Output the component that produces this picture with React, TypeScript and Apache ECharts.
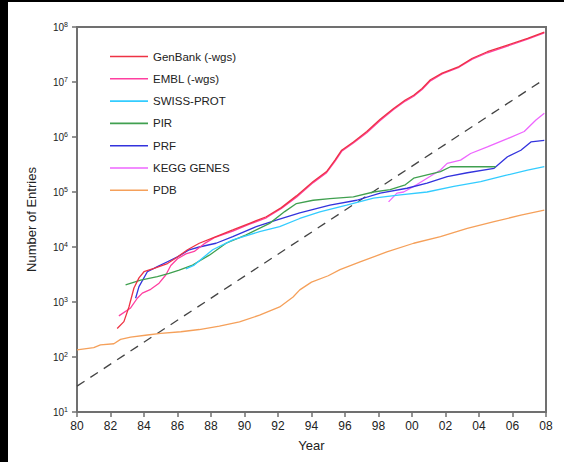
import React, { useEffect, useRef } from "react";
import * as echarts from "echarts";

const legendNames = ["GenBank (-wgs)", "EMBL (-wgs)", "SWISS-PROT", "PIR", "PRF", "KEGG GENES", "PDB"];
const seriesColors = ["#ee3344", "#ff3fa0", "#33ccff", "#40a050", "#3333dd", "#ee66ff", "#f5a05a"];

const genbank: [number, number][] = [
  [1982.4, 330], [1982.8, 440], [1983.1, 810], [1983.4, 1800], [1983.7, 2750], [1984.0, 3550],
  [1984.6, 4100], [1985.4, 5000], [1986.0, 6600], [1986.6, 8900], [1987.3, 11700], [1988.3, 15500],
  [1989.3, 20400], [1990.3, 27000], [1991.3, 35500], [1992.2, 52000], [1993.1, 85000], [1994.1, 155000],
  [1994.9, 235000], [1995.4, 380000], [1995.8, 575000], [1996.5, 810000], [1997.3, 1.26e6], [1998.1, 2.1e6],
  [1998.9, 3.3e6], [1999.6, 4.7e6], [2000.1, 5.75e6], [2000.6, 7.6e6], [2001.1, 1.1e7], [2001.8, 1.45e7],
  [2002.8, 1.9e7], [2003.6, 2.7e7], [2004.5, 3.55e7], [2005.7, 4.7e7], [2006.9, 6.2e7], [2007.9, 8.1e7],
];
const embl: [number, number][] = [
  [1982.5, 560], [1983.2, 780], [1983.6, 1170], [1983.9, 1450], [1984.4, 1700], [1984.9, 2200],
  [1985.3, 3100], [1985.6, 4600], [1986.0, 6100], [1986.5, 7500], [1987.0, 8300], [1987.6, 11500],
  [1988.2, 14800], [1989.3, 19500], [1990.3, 26000], [1991.3, 34000], [1992.2, 50000], [1993.1, 80000],
  [1994.1, 148000], [1994.9, 225000], [1995.4, 360000], [1995.8, 550000], [1996.5, 780000], [1997.3, 1.2e6],
  [1998.1, 2.0e6], [1998.9, 3.15e6], [1999.6, 4.5e6], [2000.1, 5.5e6], [2000.6, 7.3e6], [2001.1, 1.05e7],
  [2001.8, 1.4e7], [2002.8, 1.85e7], [2003.6, 2.6e7], [2004.5, 3.4e7], [2005.7, 4.5e7], [2006.9, 6.0e7],
  [2007.9, 7.8e7],
];
const swissprot: [number, number][] = [
  [1986.5, 4000], [1987.0, 4700], [1987.5, 6300], [1988.1, 8900], [1989.3, 13500], [1990.9, 19000],
  [1992.1, 23500], [1993.3, 33000], [1994.5, 43600], [1996.1, 57500], [1997.7, 77600], [1999.3, 89000],
  [2000.9, 100000], [2002.5, 126000], [2004.1, 155000], [2005.7, 204000], [2006.9, 251000], [2007.9, 288000],
];
const pir: [number, number][] = [
  [1982.9, 2050], [1983.8, 2500], [1984.8, 2900], [1985.5, 3300], [1986.1, 3800], [1986.9, 4700],
  [1987.9, 7100], [1988.9, 11700], [1990.1, 16600], [1991.5, 26900], [1992.4, 44000], [1993.1, 61700],
  [1994.1, 70800], [1995.1, 75900], [1996.5, 81300], [1997.7, 100000], [1998.7, 110000], [1999.6, 135000],
  [2000.1, 178000], [2000.9, 204000], [2001.7, 234000], [2002.3, 288000], [2005.0, 288000],
];
const prf: [number, number][] = [
  [1983.5, 1170], [1983.7, 1900], [1984.2, 3550], [1984.8, 4400], [1985.4, 5400], [1986.0, 6600],
  [1986.7, 8900], [1987.3, 10000], [1988.3, 11700], [1989.3, 15500], [1990.7, 23400], [1991.9, 30900],
  [1993.3, 41700], [1995.1, 57500], [1996.7, 70800], [1998.1, 95500], [1999.7, 117000], [2000.9, 145000],
  [2002.1, 191000], [2003.3, 224000], [2004.9, 269000], [2005.7, 437000], [2006.5, 575000], [2007.1, 813000],
  [2007.9, 871000],
];
const kegg: [number, number][] = [
  [1998.6, 66000], [1999.1, 95500], [1999.5, 100000], [2000.1, 126000], [2000.9, 178000], [2001.7, 251000],
  [2002.1, 331000], [2002.9, 380000], [2003.5, 501000], [2004.5, 661000], [2005.7, 933000], [2006.7, 1.26e6],
  [2007.4, 2.04e6], [2007.9, 2.7e6],
];
const pdb: [number, number][] = [
  [1980.0, 135], [1981.0, 148], [1981.4, 166], [1982.2, 174], [1982.6, 209], [1983.2, 229],
  [1984.2, 251], [1985.0, 269], [1986.2, 288], [1987.3, 316], [1988.5, 363], [1989.7, 437],
  [1990.9, 575], [1992.1, 813], [1992.9, 1230], [1993.3, 1660], [1994.0, 2300], [1995.0, 3000],
  [1995.7, 3890], [1996.9, 5370], [1998.5, 8130], [2000.1, 11700], [2001.7, 15500], [2003.3, 21900],
  [2004.9, 28800], [2006.5, 38000], [2007.9, 46800],
];
const trend: [number, number][] = [[1980.0, 29.5], [2007.9, 1.12e7]];

const seriesData = [genbank, embl, swissprot, pir, prf, kegg, pdb];

export default function App() {
  const ref = useRef<HTMLDivElement>(null);
  useEffect(() => {
    document.body.style.margin = "0";
    const chart = echarts.init(ref.current!, undefined, { renderer: "svg" });
    const font = "'Liberation Sans', Arial, sans-serif";
    const lines: any[] = seriesData.map((d, i) => ({
      name: legendNames[i],
      type: "line",
      data: d,
      symbol: "none",
      color: seriesColors[i],
      lineStyle: { width: 1.3, color: seriesColors[i] },
      z: 10 - i + (i === 1 ? -2 : 0),
    }));
    lines.push({
      name: "trend",
      type: "line",
      data: trend,
      symbol: "none",
      lineStyle: { width: 1.3, color: "#444", type: [9, 7] },
      z: 1,
    });
    chart.setOption({
      animation: false,
      textStyle: { fontFamily: font },
      grid: { left: 69, top: 25, width: 469, height: 385, show: true, borderColor: "#707070", borderWidth: 2, backgroundColor: "transparent" },
      legend: {
        data: legendNames,
        orient: "vertical",
        left: 102,
        top: 48.5,
        padding: 0,
        icon: "rect",
        itemWidth: 38,
        itemHeight: 1.6,
        itemGap: 10.3,
        textStyle: { fontSize: 11.5, color: "#222", fontFamily: font },
      },
      xAxis: {
        type: "value",
        min: 1980,
        max: 2008,
        interval: 2,
        name: "Year",
        nameLocation: "middle",
        nameGap: 27,
        nameTextStyle: { fontSize: 13, color: "#222", fontFamily: font },
        axisLine: { show: true, lineStyle: { color: "#707070", width: 2 } },
        axisTick: { show: true, length: 5, lineStyle: { color: "#707070", width: 1.5 } },
        axisLabel: {
          fontSize: 12,
          color: "#222",
          margin: 8,
          formatter: (v: number) => String(Math.round(v) % 100).padStart(2, "0"),
        },
        splitLine: { show: false },
      },
      yAxis: {
        type: "log",
        logBase: 10,
        min: 10,
        max: 1e8,
        interval: 1,
        name: "Number of Entries",
        nameLocation: "middle",
        nameRotate: 90,
        nameGap: 39,
        nameTextStyle: { fontSize: 13, color: "#222", fontFamily: font },
        axisLine: { show: true, lineStyle: { color: "#707070", width: 2 } },
        axisTick: { show: true, length: 5, lineStyle: { color: "#707070", width: 1.5 } },
        axisLabel: {
          fontSize: 10,
          color: "#222",
          margin: 9,
          formatter: (v: number) => "10{s|" + Math.round(Math.log10(v)) + "}",
          rich: { s: { fontSize: 7, color: "#222", padding: [0, 0, 6, 0], verticalAlign: "bottom" } },
        },
        splitLine: { show: false },
        minorTick: { show: false },
      },
      series: lines,
    });
    return () => chart.dispose();
  }, []);
  return (
    <div style={{ position: "relative", width: 564, height: 462, background: "#000" }}>
      <div ref={ref} style={{ position: "absolute", left: 8, top: 2, width: 556, height: 460, background: "#fff" }} />
    </div>
  );
}
